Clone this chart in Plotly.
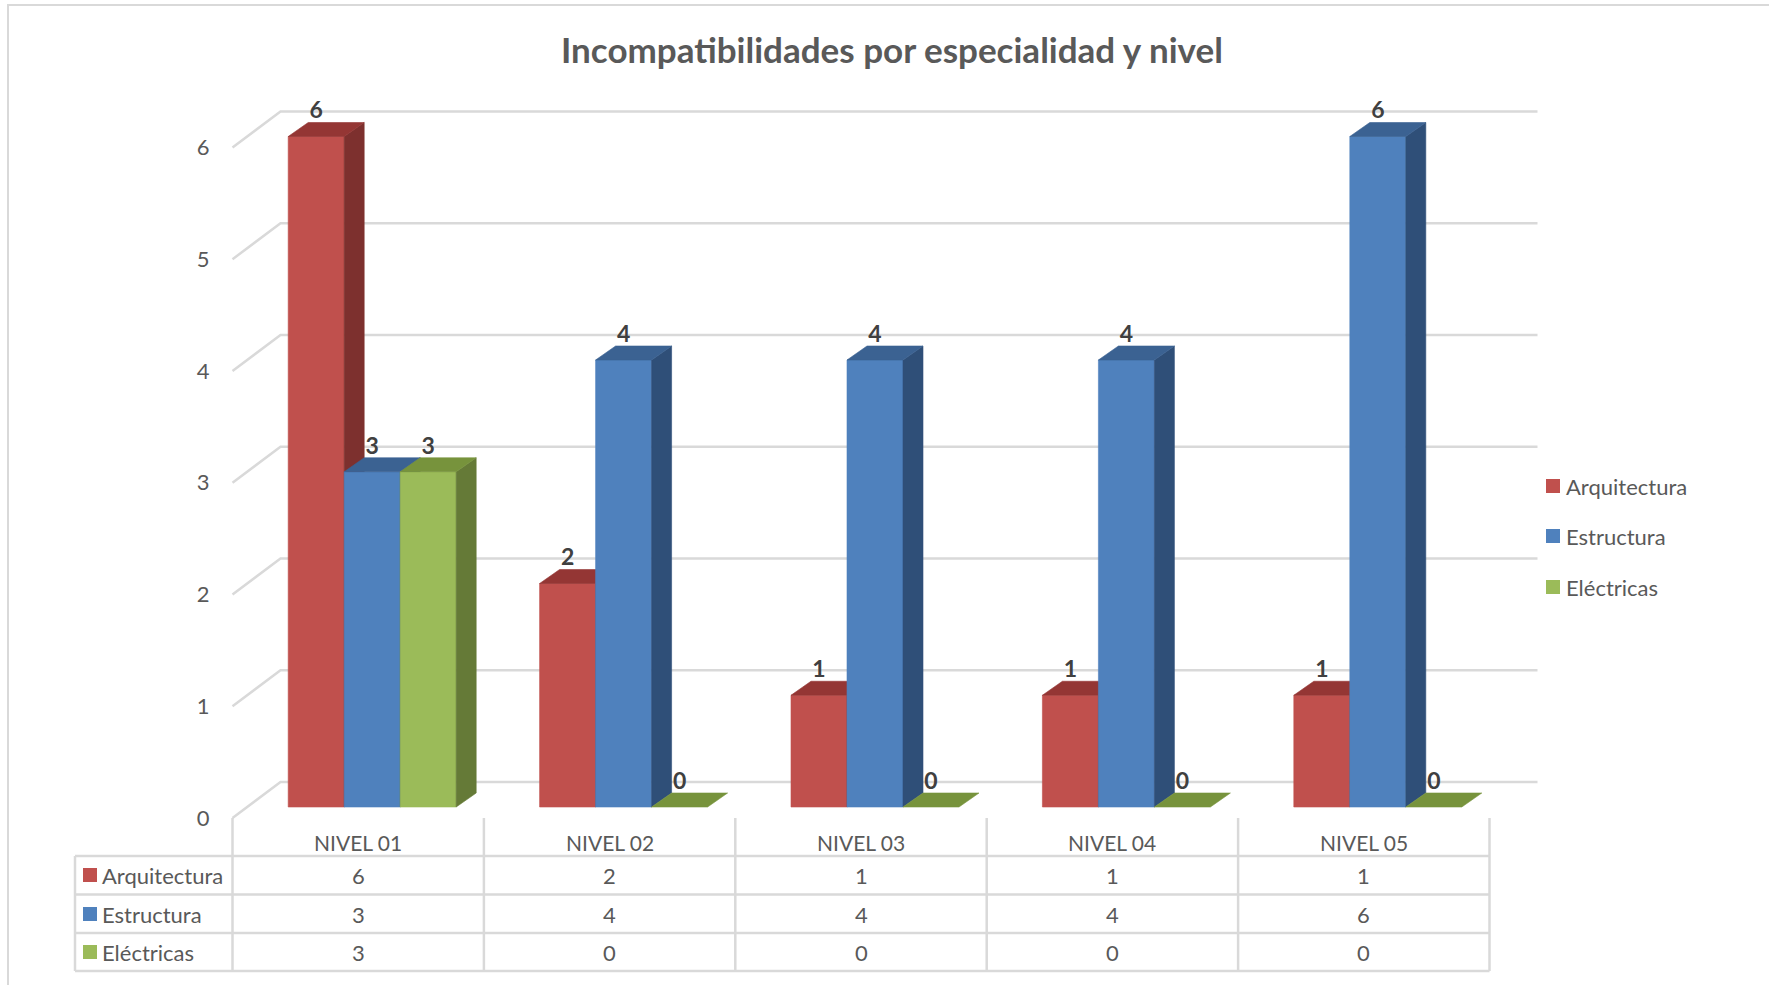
import plotly.graph_objects as go

# ---------------- data ----------------
categories = ["NIVEL 01", "NIVEL 02", "NIVEL 03", "NIVEL 04", "NIVEL 05"]
series_names = ["Arquitectura", "Estructura", "Eléctricas"]
arquitectura = [6, 2, 1, 1, 1]
estructura = [3, 4, 4, 4, 6]
electricas = [3, 0, 0, 0, 0]
y_ticks = [0, 1, 2, 3, 4, 5, 6]
title_text = "Incompatibilidades por especialidad y nivel"

series_values = [arquitectura, estructura, electricas]

# ---------------- styles ----------------
front_colors = ["#C0504D", "#4F81BD", "#9BBB59"]
side_colors = ["#7D302E", "#2F4F78", "#657A37"]
top_colors = ["#943634", "#3B6292", "#77933C"]
GRID = "#D9D9D9"
TXT = "#595959"
FONT = "Lato"

W, H = 1769, 985
CAT_PX = 251.4      # pixels per category
VAL_PX = 111.75     # pixels per unit value
X0_PX = 358.2       # pixel x of category 0 centre (front of floor)
Y0_PX = 818.0       # pixel y of value 0 (front of floor)


def X(px):
    return (px - X0_PX) / CAT_PX


def Y(py):
    return (Y0_PX - py) / VAL_PX


def DX(px):
    return px / CAT_PX


def DY(px):
    return px / VAL_PX


fig = go.Figure()

# ---------------- back wall grid lines ----------------
wdx, wdy = DX(48), DY(36)
gx, gy = [], []
n = len(categories)
for v in y_ticks:
    gx += [-0.5, -0.5 + wdx, n - 0.5 + wdx, None]
    gy += [v, v + wdy, v + wdy, None]
fig.add_trace(go.Scatter(x=gx, y=gy, mode="lines", line=dict(color=GRID, width=2.5),
                         hoverinfo="skip", showlegend=False))

# ---------------- 3D bars ----------------
bw = DX(56)
fdx, fdy = DX(14), DY(11)
ddx, ddy = DX(20), DY(14)

lab_x, lab_y, lab_t = [], [], []
for i in range(n):
    for s, vals in enumerate(series_values):
        v = vals[i]
        x0 = i - 1.5 * bw + s * bw + fdx
        x1 = x0 + bw
        yb = fdy
        yt = fdy + v
        if v > 0:
            fig.add_trace(go.Scatter(x=[x0, x1, x1, x0, x0], y=[yb, yb, yt, yt, yb],
                                     fill="toself", fillcolor=front_colors[s], mode="lines",
                                     line=dict(color=front_colors[s], width=0.6),
                                     hoverinfo="skip", showlegend=False))
            fig.add_trace(go.Scatter(x=[x1, x1 + ddx, x1 + ddx, x1, x1],
                                     y=[yb, yb + ddy, yt + ddy, yt, yb],
                                     fill="toself", fillcolor=side_colors[s], mode="lines",
                                     line=dict(color=side_colors[s], width=0.6),
                                     hoverinfo="skip", showlegend=False))
        fig.add_trace(go.Scatter(x=[x0, x1, x1 + ddx, x0 + ddx, x0],
                                 y=[yt, yt, yt + ddy, yt + ddy, yt],
                                 fill="toself", fillcolor=top_colors[s], mode="lines",
                                 line=dict(color=top_colors[s], width=0.6),
                                 hoverinfo="skip", showlegend=False))
        lab_x.append((x0 + x1) / 2)
        lab_y.append(yt + DY(24))
        lab_t.append(str(v))

fig.add_trace(go.Scatter(x=lab_x, y=lab_y, text=lab_t, mode="text",
                         textfont=dict(family=FONT, size=23, color="#404040", weight="bold"),
                         hoverinfo="skip", showlegend=False, cliponaxis=False))

# ---------------- legend (right) ----------------
leg_y_px = [486, 536, 587]
fig.add_trace(go.Scatter(x=[X(1553)] * 3, y=[Y(p) for p in leg_y_px], mode="markers",
                         marker=dict(symbol="square", size=14, color=front_colors),
                         hoverinfo="skip", showlegend=False, cliponaxis=False))
annotations = []
for name, p in zip(series_names, leg_y_px):
    annotations.append(dict(x=X(1564), y=Y(p), xref="x", yref="y", text=name, showarrow=False,
                            xanchor="left", yanchor="middle",
                            font=dict(family=FONT, size=22, color=TXT)))

# ---------------- data table ----------------
shapes = []
tbl_top, tbl_hdr = 818, 856
row_lines = [856, 894.5, 933, 971]
row_centers = [875, 914, 952]
for k in range(n + 1):
    shapes.append(dict(type="line", xref="x", yref="y", x0=k - 0.5, x1=k - 0.5,
                       y0=Y(tbl_top), y1=Y(971), line=dict(color=GRID, width=2.5)))
for py in row_lines:
    shapes.append(dict(type="line", xref="x", yref="y", x0=X(75), x1=n - 0.5,
                       y0=Y(py), y1=Y(py), line=dict(color=GRID, width=2.5)))
shapes.append(dict(type="line", xref="x", yref="y", x0=X(75), x1=X(75),
                   y0=Y(tbl_hdr), y1=Y(971), line=dict(color=GRID, width=2.5)))

for i, cat in enumerate(categories):
    annotations.append(dict(x=i, y=Y(842), xref="x", yref="y", text=cat, showarrow=False,
                            xanchor="center", yanchor="middle",
                            font=dict(family=FONT, size=21, color=TXT)))
    for r, vals in enumerate(series_values):
        annotations.append(dict(x=i, y=Y(row_centers[r]), xref="x", yref="y", text=str(vals[i]),
                                showarrow=False, xanchor="center", yanchor="middle",
                                font=dict(family=FONT, size=22, color=TXT)))

fig.add_trace(go.Scatter(x=[X(90)] * 3, y=[Y(p) for p in row_centers], mode="markers",
                         marker=dict(symbol="square", size=14, color=front_colors),
                         hoverinfo="skip", showlegend=False, cliponaxis=False))
for name, p in zip(series_names, row_centers):
    annotations.append(dict(x=X(100), y=Y(p), xref="x", yref="y", text=name, showarrow=False,
                            xanchor="left", yanchor="middle",
                            font=dict(family=FONT, size=22, color=TXT)))

# ---------------- title ----------------
annotations.append(dict(x=892 / W, y=1 - 49 / H, xref="paper", yref="paper", text=title_text,
                        showarrow=False, xanchor="center", yanchor="middle",
                        font=dict(family=FONT, size=35, color=TXT, weight="bold")))

# ---------------- chart frame ----------------
shapes.append(dict(type="rect", xref="paper", yref="paper", x0=8 / W, x1=1.05,
                   y0=-0.05, y1=1 - 5 / H, line=dict(color=GRID, width=2)))

fig.update_layout(
    width=W, height=H,
    margin=dict(l=0, r=0, t=0, b=0),
    paper_bgcolor="white", plot_bgcolor="white",
    xaxis=dict(range=[X(0), X(W)], visible=False, fixedrange=True),
    yaxis=dict(range=[Y(H), Y(0)], anchor="free", position=232 / W, side="left",
               tickvals=y_ticks, ticktext=[str(t) for t in y_ticks],
               showgrid=False, zeroline=False, showline=False, ticks="outside", ticklen=0,
               ticklabelstandoff=18, tickfont=dict(family=FONT, size=22, color=TXT),
               fixedrange=True),
    shapes=shapes,
    annotations=annotations,
    showlegend=False,
)

fig.write_html("out.html")
